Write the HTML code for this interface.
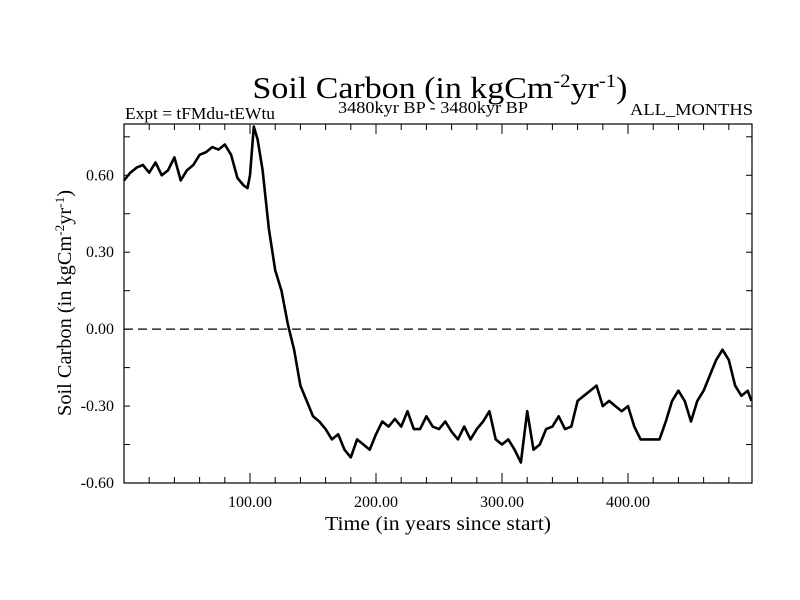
<!DOCTYPE html>
<html><head><meta charset="utf-8"><style>
body{margin:0;background:#fff}
svg{display:block;font-family:"Liberation Serif",serif}
</style></head><body>
<svg id="chart" width="800" height="600" viewBox="0 0 800 600">
<text x="440" y="98" font-size="31" text-anchor="middle" textLength="375" lengthAdjust="spacingAndGlyphs">Soil Carbon (in kgCm<tspan dy="-11" font-size="19">-2</tspan><tspan dy="11">yr</tspan><tspan dy="-11" font-size="19">-1</tspan><tspan dy="11">)</tspan></text>
<text x="125" y="119" font-size="17" textLength="150" lengthAdjust="spacingAndGlyphs">Expt = tFMdu-tEWtu</text>
<text x="433" y="113" font-size="17" text-anchor="middle" textLength="190" lengthAdjust="spacingAndGlyphs">3480kyr BP - 3480kyr BP</text>
<text x="753" y="115" font-size="17" text-anchor="end" textLength="123" lengthAdjust="spacingAndGlyphs">ALL_MONTHS</text>
<g id="axes"></g>
<text x="438" y="530" font-size="20" text-anchor="middle" textLength="226" lengthAdjust="spacingAndGlyphs">Time (in years since start)</text>
<text transform="translate(71,303) rotate(-90)" font-size="20" text-anchor="middle" textLength="226" lengthAdjust="spacingAndGlyphs">Soil Carbon (in kgCm<tspan dy="-7" font-size="13">-2</tspan><tspan dy="7">yr</tspan><tspan dy="-7" font-size="13">-1</tspan><tspan dy="7">)</tspan></text>
</svg>
<script>
const years=[0,5,10,15,20,25,30,35,40,45,50,55,60,65,70,75,80,85,90,95,98,100,103,106,110,115,120,125,130,135,140,145,150,155,160,165,170,175,180,185,190,195,200,205,210,215,220,225,230,235,240,245,250,255,260,265,270,275,280,285,290,295,300,305,310,315,320,325,330,335,340,345,350,355,360,365,370,375,380,385,390,395,400,405,410,415,420,425,430,435,440,445,450,455,460,465,470,475,480,485,490,495,498];
const soilCarbon=[0.58,0.61,0.63,0.64,0.61,0.65,0.60,0.62,0.67,0.58,0.62,0.64,0.68,0.69,0.71,0.70,0.72,0.68,0.59,0.56,0.55,0.60,0.79,0.74,0.62,0.39,0.23,0.15,0.02,-0.08,-0.22,-0.28,-0.34,-0.36,-0.39,-0.43,-0.41,-0.47,-0.50,-0.43,-0.45,-0.47,-0.41,-0.36,-0.38,-0.35,-0.38,-0.32,-0.39,-0.39,-0.34,-0.38,-0.39,-0.36,-0.40,-0.43,-0.38,-0.43,-0.39,-0.36,-0.32,-0.43,-0.45,-0.43,-0.47,-0.52,-0.32,-0.47,-0.45,-0.39,-0.38,-0.34,-0.39,-0.38,-0.28,-0.26,-0.24,-0.22,-0.30,-0.28,-0.30,-0.32,-0.30,-0.38,-0.43,-0.43,-0.43,-0.43,-0.36,-0.28,-0.24,-0.28,-0.36,-0.28,-0.24,-0.18,-0.12,-0.08,-0.12,-0.22,-0.26,-0.24,-0.28];
const xTickValues=[100,200,300,400];
const xTickLabels=["100.00","200.00","300.00","400.00"];
const yTickValues=[-0.6,-0.3,0,0.3,0.6];
const yTickLabels=["-0.60","-0.30","0.00","0.30","0.60"];
const L=124,R=752,T=124,B=483,X0=0,X1=498.4,Y0=-0.6,Y1=0.8;
const sx=v=>L+(v-X0)/(X1-X0)*(R-L);
const sy=v=>B-(v-Y0)/(Y1-Y0)*(B-T);
const NS="http://www.w3.org/2000/svg";
const g=document.getElementById('axes');
function mk(tag,attrs){const e=document.createElementNS(NS,tag);for(const k in attrs)e.setAttribute(k,attrs[k]);g.appendChild(e);return e;}
let z=mk('line',{x1:L,x2:R,y1:sy(0),y2:sy(0),stroke:'#000','stroke-width':1.2,'stroke-dasharray':'9,5'});


for(let v=20;v<X1;v+=20){
 const big=v%100===0;
 for(const [y,d] of [[B,-1],[T,1]]){
  const t=mk('line',{x1:sx(v),x2:sx(v),y1:y,y2:y+d*(big?10:6),stroke:'#000','stroke-width':1});
  
  
 }
}
for(let v=-0.6;v<=0.8001;v+=0.15){
 for(const [x,d] of [[L,1],[R,-1]]){
  const t=mk('line',{x1:x,x2:x+d*6,y1:sy(v),y2:sy(v),stroke:'#000','stroke-width':1});
  
  
 }
}
xTickValues.forEach((v,i)=>{
 const t=mk('text',{x:sx(v),y:B+24,'font-size':16,'text-anchor':'middle'});
 t.textContent=xTickLabels[i];
 
 
});
yTickValues.forEach((v,i)=>{
 const t=mk('text',{x:L-10,y:sy(v)+5,'font-size':16,'text-anchor':'end'});
 t.textContent=yTickLabels[i];
 
 
});
const d=years.map((y,i)=>(i?'L':'M')+sx(y).toFixed(1)+','+sy(soilCarbon[i]).toFixed(1)).join('');
const p=mk('path',{d:d,fill:'none',stroke:'#000','stroke-width':2.6,'stroke-linejoin':'round'});


const f=mk('rect',{x:L,y:T,width:R-L,height:B-T,fill:'none',stroke:'#000','stroke-width':1.2});


</script>
</body></html>
